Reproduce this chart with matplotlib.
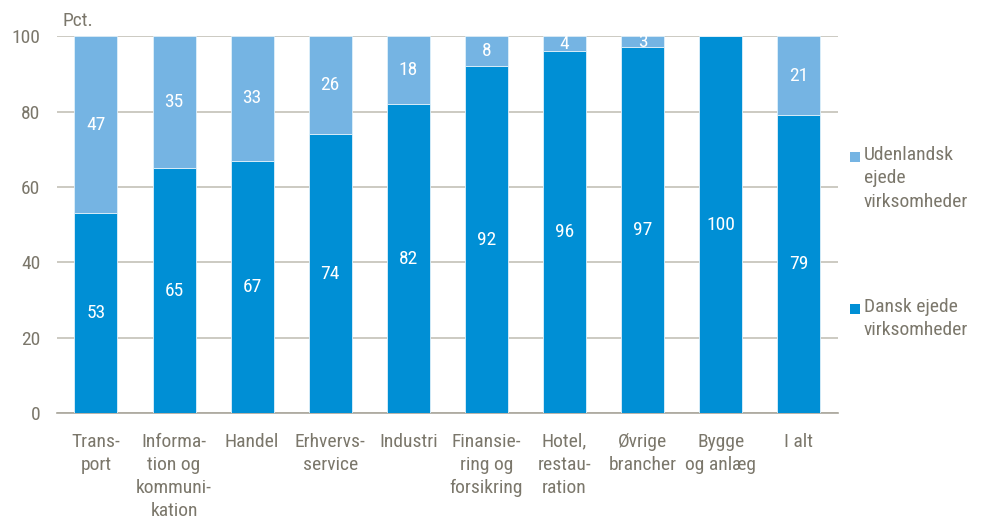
import matplotlib
matplotlib.use("Agg")
import matplotlib.pyplot as plt
from matplotlib import font_manager
from matplotlib.patches import Rectangle
import numpy as np

# Data: share of firms by ownership, per industry (pct.)
categories = ["Trans-\nport", "Informa-\ntion og\nkommuni-\nkation", "Handel",
              "Erhvervs-\nservice", "Industri", "Finansie-\nring og\nforsikring",
              "Hotel,\nrestau-\nration", "Øvrige\nbrancher", "Bygge\nog anlæg", "I alt"]
dansk = [53, 65, 67, 74, 82, 92, 96, 97, 100, 79]
udenlandsk = [47, 35, 33, 26, 18, 8, 4, 3, 0, 21]
series_names = ["Udenlandsk\nejede\nvirksomheder", "Dansk ejede\nvirksomheder"]
yticks = [0, 20, 40, 60, 80, 100]

DARK = "#008fd5"
LIGHT = "#75b4e3"
TEXT = "#7b776b"
GRID = "#c4c1b8"
FS = 14

installed = {f.name for f in font_manager.fontManager.ttflist}
families = [f for f in ["Liberation Sans Narrow", "Roboto Condensed", "Liberation Sans"] if f in installed]
plt.rcParams["font.family"] = families + ["DejaVu Sans"]

fig = plt.figure(figsize=(9.81, 5.17), dpi=100)
ax = fig.add_axes([0.058, 0.201, 0.796, 0.729])

x = np.arange(len(categories))
w = 0.55
b1 = ax.bar(x, dansk, w, color=DARK, edgecolor="#dff0fa", linewidth=0.6, zorder=3)
b2 = ax.bar(x, udenlandsk, w, bottom=dansk, color=LIGHT, edgecolor="#dff0fa", linewidth=0.6, zorder=3)

for xi, d, u in zip(x, dansk, udenlandsk):
    ax.text(xi, d / 2, str(d), ha="center", va="center", color="white", fontsize=FS, zorder=4)
    if u > 0:
        ax.text(xi, d + u / 2, str(u), ha="center", va="center", color="white", fontsize=FS, zorder=4)

ax.set_xlim(-0.5, len(categories) - 0.5)
ax.set_ylim(0, 100)
ax.set_yticks(yticks)
ax.set_xticks(x)
ax.set_xticklabels(categories, fontsize=FS, color=TEXT, linespacing=1.38, va="top")
ax.tick_params(axis="y", labelsize=FS, labelcolor=TEXT, length=0, pad=12)
ax.tick_params(axis="x", length=0, pad=14)
ax.yaxis.grid(True, color=GRID, linewidth=1.2, zorder=0)
for s in ["top", "right", "left"]:
    ax.spines[s].set_visible(False)
ax.spines["bottom"].set_color("#a9a69c")
ax.spines["bottom"].set_linewidth(1.2)

fig.text(0.064, 0.942, "Pct.", fontsize=FS, color=TEXT, ha="left", va="bottom")

# legend drawn by hand so the square sits beside the first line of text
W, H = fig.get_size_inches() * fig.dpi
legend_rows = [(series_names[0], LIGHT, 157), (series_names[1], DARK, 309)]
for label, color, ypx in legend_rows:
    sq = 10
    fig.patches.append(Rectangle((850 / W, (H - ypx - sq / 2) / H), sq / W, sq / H,
                                 transform=fig.transFigure, facecolor=color, edgecolor="none"))
    fig.text(864 / W, (H - ypx + 11) / H, label, fontsize=FS, color=TEXT, ha="left", va="top",
             linespacing=1.38, transform=fig.transFigure)

fig.savefig("out.png", dpi=100)
